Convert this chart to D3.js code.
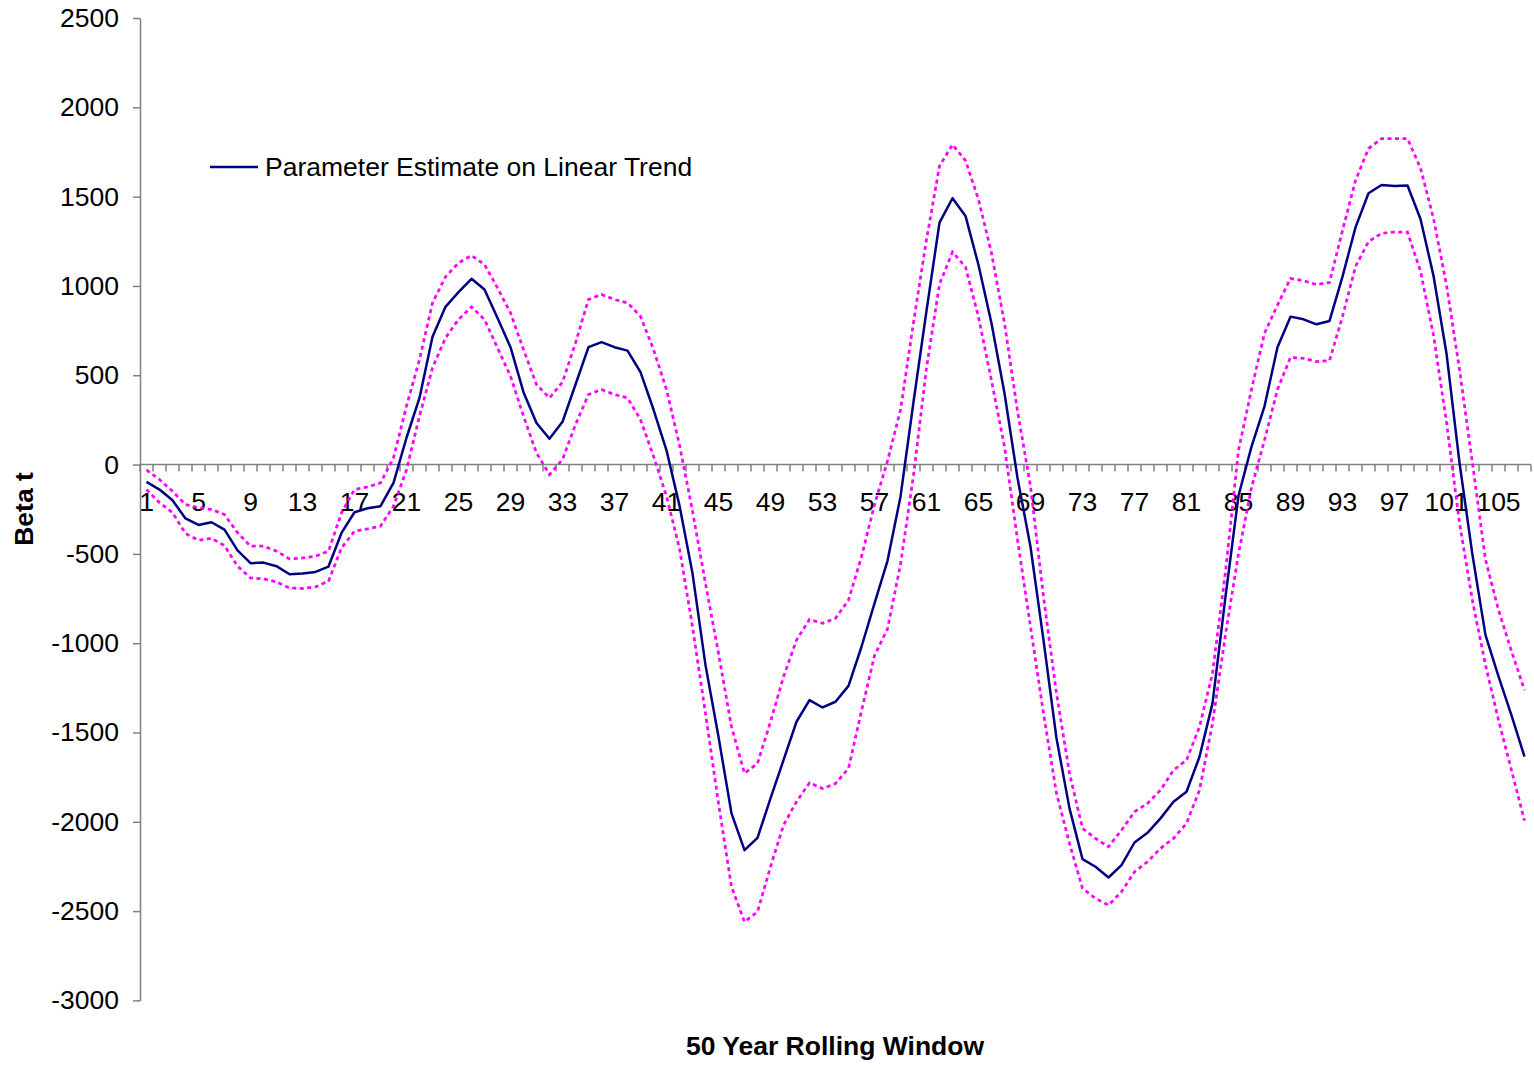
<!DOCTYPE html>
<html>
<head>
<meta charset="utf-8">
<script src="https://cdn.jsdelivr.net/npm/d3@7"></script>
<style>
    body { margin: 0; background: #fff; }
    text { font-family: "Liberation Sans", Arial, sans-serif; }
</style>
</head>
<body>
<div id="chart"></div>
<script>
// Rolling window index 1..107
const windows = d3.range(1, 108);

// Parameter estimate on linear trend (solid navy line)
const estimate = [
    -97, -140, -200, -302, -338, -323, -364, -481, -552, -549,
    -569, -614, -610, -601, -571, -383, -267, -245, -233, -103,
    150, 373, 715, 883, 965, 1040, 980, 821, 657, 405,
    233, 144, 239, 448, 657, 685, 657, 638, 517, 308,
    80, -230, -609, -1123, -1524, -1953, -2159, -2090, -1869, -1655,
    -1440, -1319, -1360, -1328, -1239, -1020, -777, -539, -180, 350,
    860, 1354, 1491, 1392, 1117, 791, 399, -75, -460, -983,
    -1533, -1925, -2209, -2252, -2312, -2243, -2116, -2062, -1981, -1888,
    -1832, -1636, -1337, -740, -175, 100, 326, 657, 828, 813,
    785, 804, 1052, 1328, 1519, 1565, 1560, 1562, 1375, 1057,
    622, 10, -507, -955, -1186, -1404, -1635
];

// Upper band (dotted magenta)
const upper = [
    -30, -84, -150, -224, -241, -252, -280, -381, -457, -457,
    -485, -528, -523, -513, -485, -270, -140, -125, -103, 37,
    327, 588, 905, 1051, 1129, 1170, 1120, 989, 849, 644,
    448, 373, 461, 681, 924, 952, 924, 905, 830, 644,
    420, 110, -260, -665, -1057, -1468, -1729, -1673, -1440, -1188,
    -983, -867, -889, -861, -759, -516, -225, 20, 305, 795,
    1260, 1671, 1791, 1702, 1484, 1184, 792, 300, -120, -740,
    -1281, -1729, -2037, -2093, -2140, -2047, -1944, -1897, -1823, -1711,
    -1655, -1468, -1169, -600, 80, 420, 735, 893, 1042, 1029,
    1008, 1019, 1310, 1590, 1769, 1825, 1825, 1825, 1660, 1378,
    1006, 532, 6, -533, -814, -1045, -1263
];

// Lower band (dotted magenta)
const lower = [
    -140, -213, -269, -386, -424, -413, -454, -569, -635, -640,
    -657, -691, -694, -685, -653, -467, -373, -360, -345, -233,
    -30, 271, 541, 709, 812, 883, 812, 653, 495, 271,
    65, -56, 28, 224, 392, 420, 392, 373, 252, 47,
    -177, -470, -908, -1393, -1897, -2364, -2560, -2504, -2252, -2019,
    -1888, -1782, -1814, -1786, -1701, -1380, -1070, -920, -560, -60,
    540, 1010, 1190, 1106, 826, 470, 100, -420, -908, -1393,
    -1841, -2121, -2373, -2429, -2467, -2392, -2280, -2224, -2149, -2093,
    -2009, -1823, -1449, -950, -500, -130, 137, 420, 600, 595,
    576, 582, 828, 1108, 1248, 1295, 1301, 1301, 1083, 724,
    237, -327, -763, -1122, -1430, -1712, -1994
];

const yTicks = d3.range(-3000, 2501, 500);
const legendLabel = 'Parameter Estimate on Linear Trend';
const xTitle = '50 Year Rolling Window';
const yTitle = 'Beta t';

const width = 1534;
const height = 1065;
const font = 26.5;

const svg = d3.select('#chart')
    .append('svg')
    .attr('width', width)
    .attr('height', height)
    .style('display', 'block');

svg.append('rect')
    .attr('width', width)
    .attr('height', height)
    .attr('fill', '#fff');

const x = d3.scaleBand()
    .domain(windows)
    .range([140, 1531])
    .padding(0);

const y = d3.scaleLinear()
    .domain([-3000, 2500])
    .range([1000.4, 18]);

const y0 = y(0);
const axisColor = '#808080';

// Y axis (plain integers, hyphen minus like the original)
const yAxis = svg.append('g')
    .attr('transform', 'translate(140,0)')
    .call(d3.axisLeft(y)
        .tickValues(yTicks)
        .tickFormat(d => String(d))
        .tickSize(7)
        .tickSizeOuter(0)
        .tickPadding(14));
yAxis.select('.domain').attr('stroke', axisColor).attr('stroke-width', 1.5);
yAxis.selectAll('.tick line').attr('stroke', axisColor).attr('stroke-width', 1.5);
yAxis.selectAll('.tick text')
    .attr('fill', '#000')
    .style('font-size', font + 'px')
    .style('font-family', '"Liberation Sans", Arial, sans-serif');

// X axis line at zero, with tick marks on every category boundary
const xAxis = svg.append('g').attr('class', 'x-axis');
xAxis.append('line')
    .attr('x1', x.range()[0])
    .attr('x2', x.range()[1])
    .attr('y1', y0)
    .attr('y2', y0)
    .attr('stroke', axisColor)
    .attr('stroke-width', 1.5);

xAxis.selectAll('line.tick')
    .data(d3.range(windows.length + 1))
    .enter()
    .append('line')
    .attr('class', 'tick')
    .attr('x1', i => x.range()[0] + i * x.step())
    .attr('x2', i => x.range()[0] + i * x.step())
    .attr('y1', y0)
    .attr('y2', y0 + 7)
    .attr('stroke', axisColor)
    .attr('stroke-width', 1.5);

// Labels every 4th window: 1, 5, 9, ...
const xLabels = svg.append('g')
    .attr('transform', `translate(0,${y0})`)
    .call(d3.axisBottom(x)
        .tickValues(windows.filter(d => (d - 1) % 4 === 0))
        .tickSize(0)
        .tickPadding(28));
xLabels.select('.domain').remove();
xLabels.selectAll('.tick text')
    .attr('fill', '#000')
    .style('font-size', font + 'px')
    .style('font-family', '"Liberation Sans", Arial, sans-serif');

// Series lines
const line = d3.line()
    .x((d, i) => x(windows[i]) + x.bandwidth() / 2)
    .y(d => y(d));

svg.append('path')
    .datum(upper)
    .attr('d', line)
    .attr('fill', 'none')
    .attr('stroke', '#ff00ff')
    .attr('stroke-width', 2.75)
    .attr('stroke-dasharray', '4,3.5');

svg.append('path')
    .datum(lower)
    .attr('d', line)
    .attr('fill', 'none')
    .attr('stroke', '#ff00ff')
    .attr('stroke-width', 2.75)
    .attr('stroke-dasharray', '4,3.5');

svg.append('path')
    .datum(estimate)
    .attr('d', line)
    .attr('fill', 'none')
    .attr('stroke', '#000080')
    .attr('stroke-width', 2.5)
    .attr('stroke-linejoin', 'round');

// Legend
const legend = svg.append('g').attr('transform', 'translate(210,167)');
legend.append('line')
    .attr('x1', 0)
    .attr('x2', 48)
    .attr('stroke', '#000080')
    .attr('stroke-width', 2.5);
legend.append('text')
    .attr('x', 55)
    .attr('y', 9)
    .style('font-size', font + 'px')
    .text(legendLabel);

// Axis titles
svg.append('text')
    .attr('x', 835)
    .attr('y', 1055)
    .attr('text-anchor', 'middle')
    .style('font-size', font + 'px')
    .style('font-weight', 'bold')
    .text(xTitle);

svg.append('text')
    .attr('transform', 'translate(33,509) rotate(-90)')
    .attr('text-anchor', 'middle')
    .style('font-size', font + 'px')
    .style('font-weight', 'bold')
    .text(yTitle);
</script>
</body>
</html>
